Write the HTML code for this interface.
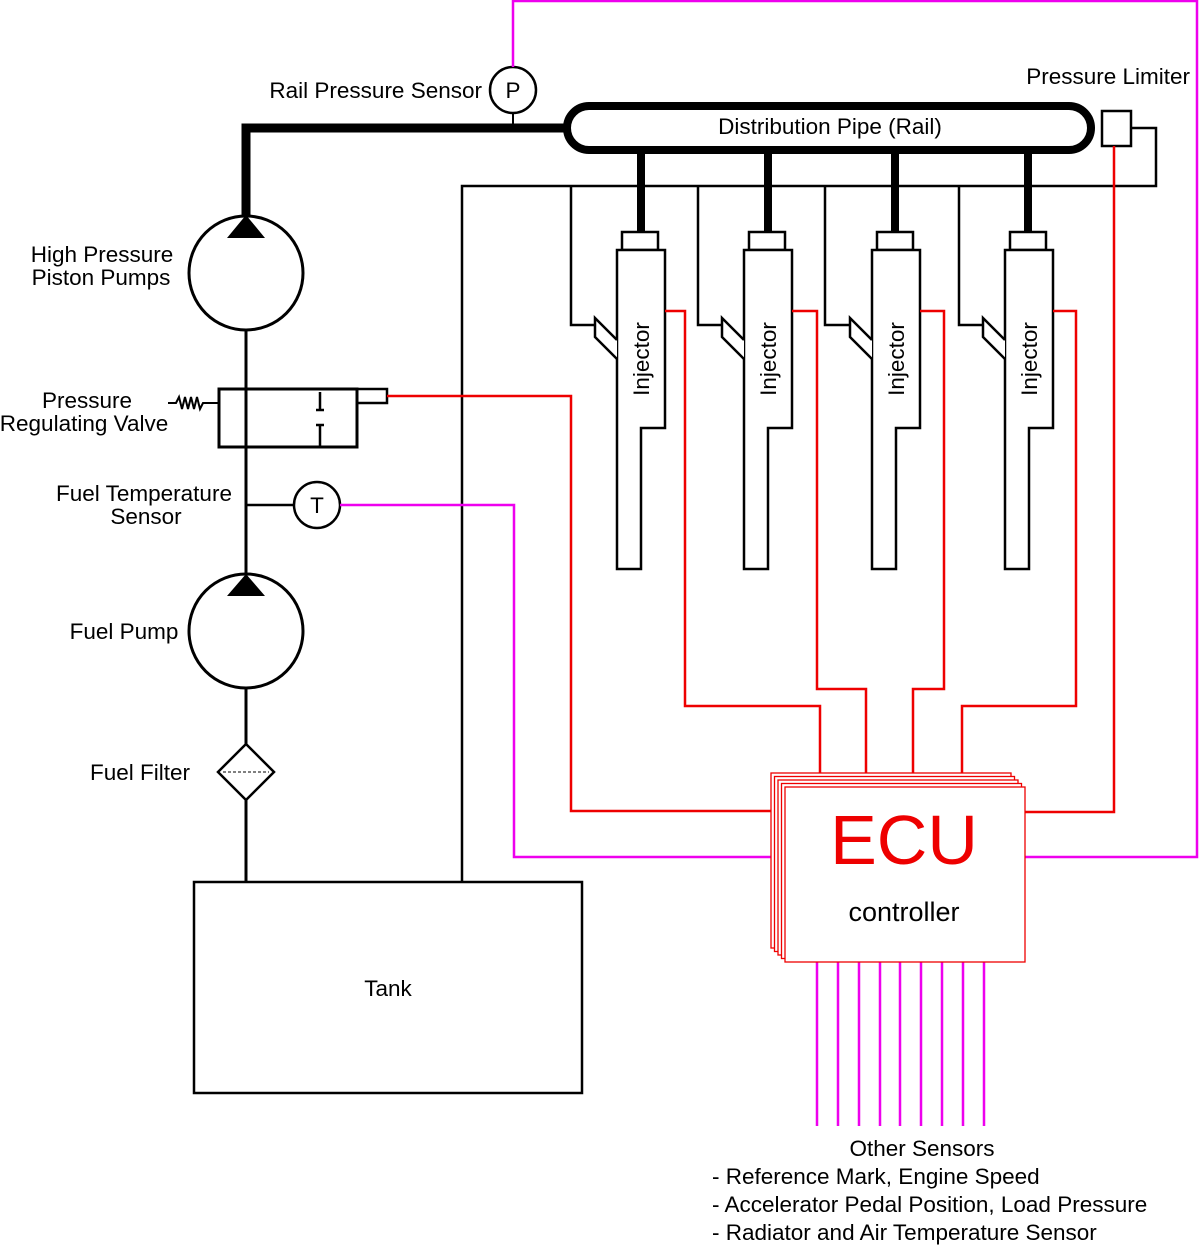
<!DOCTYPE html>
<html><head><meta charset="utf-8"><style>
html,body{margin:0;padding:0;background:#fff}
svg text{font-family:"Liberation Sans",Arial,sans-serif;font-size:22.5px;fill:#000}
</style></head><body>
<svg width="1200" height="1245" viewBox="0 0 1200 1245" xmlns="http://www.w3.org/2000/svg">
<g fill="none" stroke="#000" stroke-width="3">
<path d="M246 225 V128 H568" stroke-width="9"/>
<rect x="567" y="106" width="524" height="44" rx="22" stroke-width="8" fill="#fff"/>
<line x1="641" y1="150" x2="641" y2="232" stroke-width="8"/>
<line x1="768" y1="150" x2="768" y2="232" stroke-width="8"/>
<line x1="895" y1="150" x2="895" y2="232" stroke-width="8"/>
<line x1="1028" y1="150" x2="1028" y2="232" stroke-width="8"/>
<line x1="513" y1="113" x2="513" y2="128" stroke-width="2"/>
<circle cx="513" cy="90" r="23" stroke-width="2.5"/>
<path d="M462 882 V186 H1156 V128 H1131" stroke-width="2.5"/>
<rect x="1102" y="111" width="29" height="35" stroke-width="2.5"/>
<path d="M571 186 V325 H595 M698 186 V325 H722 M825 186 V325 H849 M959 186 V325 H983" stroke-width="2.5"/>
<g stroke-width="2.5" fill="#fff">
<g id="inj">
<rect x="622" y="232" width="36" height="18"/>
<path d="M617 250 H665 V428 H641 V569 H617 Z"/>
<path d="M617 340 L595 318 V337 L617 359"/>
</g>
<use href="#inj" x="127"/>
<use href="#inj" x="255"/>
<use href="#inj" x="388"/>
</g>
<line x1="246" y1="320" x2="246" y2="882" stroke-width="3"/>
<circle cx="246" cy="273" r="57" fill="#fff"/>
<circle cx="246" cy="631" r="57" fill="#fff"/>
<path d="M246 215 L265 238 H227 Z" fill="#000" stroke="none"/>
<path d="M246 574 L265 596 H227 Z" fill="#000" stroke="none"/>
<rect x="219" y="389" width="138" height="58"/>
<rect x="357" y="389" width="30" height="14" stroke-width="2.5"/>
<path d="M320 392 V410 M316 410 H324 M320 447 V425 M316 425 H324" stroke-width="2.5"/>
<path d="M168 403 H176 L179 397 L182 409 L185 397 L188 409 L191 397 L194 409 L197 397 L200 409 L203 403 H219" stroke-width="2"/>
<line x1="246" y1="505" x2="294" y2="505" stroke-width="2.5"/>
<circle cx="317" cy="505" r="23" stroke-width="2.5" fill="#fff"/>
<path d="M246 744 L274 772 L246 800 L218 772 Z" fill="#fff" stroke-width="2.5"/>
<line x1="223" y1="772" x2="269" y2="772" stroke-width="1" stroke-dasharray="3 2"/>
<rect x="194" y="882" width="388" height="211" stroke-width="2.5"/>
</g>
<g fill="none" stroke="#e00" stroke-width="2.5">
<path d="M387 396 H571 V811 H771"/>
<path d="M665 311 H685 V706 H820 V773"/>
<path d="M792 311 H817 V689 H866 V773"/>
<path d="M920 311 H944 V689 H913 V773"/>
<path d="M1053 311 H1076 V706 H962 V773"/>
<path d="M1114 146 V812 H1025"/>
</g>
<g fill="none" stroke="#e0e" stroke-width="2.5">
<path d="M513 67 V1 H1197 V857 H1025"/>
<path d="M340 505 H514 V857 H771"/>
<path d="M817 962 V1126 M838 962 V1126 M859 962 V1126 M880 962 V1126 M900 962 V1126 M921 962 V1126 M942 962 V1126 M963 962 V1126 M984 962 V1126"/>
</g>
<g fill="#fff" stroke="#e00" stroke-width="1.3">
<rect x="771" y="773" width="240" height="175"/>
<rect x="774.5" y="776.5" width="240" height="175"/>
<rect x="778" y="780" width="240" height="175"/>
<rect x="781.5" y="783.5" width="240" height="175"/>
<rect x="785" y="787" width="240" height="175"/>
</g>
<text x="904" y="864" text-anchor="middle" style="font-size:70px;fill:#e00">ECU</text>
<text x="904" y="921" text-anchor="middle" style="font-size:27px">controller</text>
<text x="830" y="134" text-anchor="middle">Distribution Pipe (Rail)</text>
<text x="513" y="98" text-anchor="middle">P</text>
<text x="317" y="513" text-anchor="middle">T</text>
<text x="482" y="98" text-anchor="end">Rail Pressure Sensor</text>
<text x="1190" y="84" text-anchor="end">Pressure Limiter</text>
<text x="102" y="262" text-anchor="middle">High Pressure</text>
<text x="101" y="285" text-anchor="middle">Piston Pumps</text>
<text x="87" y="408" text-anchor="middle">Pressure</text>
<text x="84" y="431" text-anchor="middle">Regulating Valve</text>
<text x="144" y="501" text-anchor="middle">Fuel Temperature</text>
<text x="146" y="524" text-anchor="middle">Sensor</text>
<text x="124" y="639" text-anchor="middle">Fuel Pump</text>
<text x="140" y="780" text-anchor="middle">Fuel Filter</text>
<text x="388" y="996" text-anchor="middle">Tank</text>
<g transform="translate(649,359) rotate(-90)"><text text-anchor="middle">Injector</text></g>
<g transform="translate(776,359) rotate(-90)"><text text-anchor="middle">Injector</text></g>
<g transform="translate(904,359) rotate(-90)"><text text-anchor="middle">Injector</text></g>
<g transform="translate(1037,359) rotate(-90)"><text text-anchor="middle">Injector</text></g>
<text x="922" y="1156" text-anchor="middle">Other Sensors</text>
<text x="712" y="1184">- Reference Mark, Engine Speed</text>
<text x="712" y="1212">- Accelerator Pedal Position, Load Pressure</text>
<text x="712" y="1240">- Radiator and Air Temperature Sensor</text>
</svg>
</body></html>
